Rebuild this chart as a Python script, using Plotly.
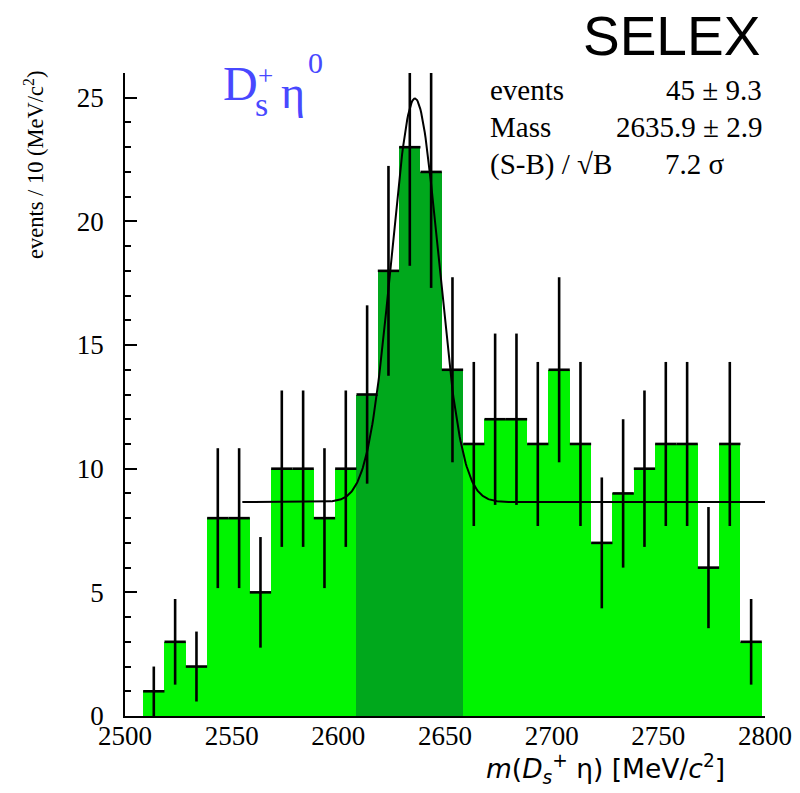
import numpy as np
import plotly.graph_objects as go

# ---- histogram: D_s+ eta invariant mass, 10 MeV bins ----
bin_centers = [2513.5 + 10 * i for i in range(29)]
counts = [1, 3, 2, 8, 8, 5, 10, 10, 8, 10,
          13, 18, 23, 22, 14, 11, 12, 12, 11, 14,
          11, 7, 9, 10, 11, 11, 6, 11, 3]
bin_width = 10.0

# signal window (shaded darker)
window_lo, window_hi = 2608.5, 2658.5

# fit result: gaussian on a flat background
fit_events = 45
fit_events_err = 9.3
fit_mass = 2635.9
fit_mass_err = 2.9
fit_sigma = 11.0
fit_bkg = 8.65
fit_range = (2555.0, 2800.0)
significance = 7.2

x_ticks = [2500, 2550, 2600, 2650, 2700, 2750, 2800]
y_ticks = [0, 5, 10, 15, 20, 25]

LIGHT = "#00f400"
DARK = "#00a81c"
BLUE = "#4848ff"
SERIF = "Liberation Serif"

bar_colors = [DARK if window_lo <= c <= window_hi else LIGHT for c in bin_centers]
errors = [np.sqrt(n) for n in counts]

fig = go.Figure()
fig.add_trace(go.Bar(
    x=bin_centers, y=counts, width=bin_width,
    marker=dict(color=bar_colors, line=dict(width=0)),
    hoverinfo="skip", showlegend=False,
))
fig.add_trace(go.Scatter(
    x=bin_centers, y=counts, mode="markers",
    marker=dict(size=1, color="black", opacity=0),
    error_y=dict(type="data", array=errors, visible=True, color="black",
                 thickness=2.6, width=0),
    error_x=dict(type="constant", value=bin_width / 2, visible=True,
                 color="black", thickness=2.6, width=0),
    showlegend=False,
))

# fit curve
xf = np.linspace(fit_range[0], fit_range[1], 600)
amp = fit_events * bin_width / (np.sqrt(2 * np.pi) * fit_sigma)
yf = fit_bkg + amp * np.exp(-0.5 * ((xf - fit_mass) / fit_sigma) ** 2)
fig.add_trace(go.Scatter(x=xf, y=yf, mode="lines",
                         line=dict(color="black", width=2),
                         showlegend=False, hoverinfo="skip"))

# plot area in pixels
L, R, T, B = 125, 765, 73, 716
W, H = 800, 793


def px(xp):
    return (xp - L) / (R - L)


def py(yp):
    return (B - yp) / (B - T)


def note(text, x, y, size, color="black", family=SERIF, xanchor="left",
         yanchor="middle", angle=0):
    fig.add_annotation(text=text, x=px(x), y=py(y), xref="paper", yref="paper",
                       showarrow=False, xanchor=xanchor, yanchor=yanchor,
                       textangle=angle,
                       font=dict(family=family, size=size, color=color))


# experiment name
note("SELEX", 671, 36, 55, family="Liberation Sans", xanchor="center")

# decay channel label
note("D", 221, 83, 48, color=BLUE)
note("+", 265, 76, 27, color=BLUE, xanchor="center")
note("s", 261, 104, 34, color=BLUE, xanchor="center")
note("\u03b7", 293, 92, 46, color=BLUE, xanchor="center")
note("0", 315, 62, 30, color=BLUE, xanchor="center")

# fit summary
note("events", 488, 90, 29)
note(f"{fit_events} \u00b1 {fit_events_err}", 764, 90, 29, xanchor="right")
note("Mass", 488, 127, 29)
note(f"{fit_mass} \u00b1 {fit_mass_err}", 764, 127, 29, xanchor="right")
note("(S-B) / \u221aB", 488, 164, 29)
note(f"{significance} \u03c3", 663, 164, 29)

# axis titles
note("<i>m</i>(<i>D<sub>s</sub></i><sup>+</sup> \u03b7) [MeV/<i>c</i><sup>2</sup>]",
     605, 769, 26.5, family="DejaVu Sans", xanchor="center")
note("events / 10 (MeV/c<sup>2</sup>)", 34, 165, 22.5, xanchor="center", angle=-90)

fig.update_layout(
    width=W, height=H,
    margin=dict(l=L, r=W - R, t=T, b=H - B, pad=0, autoexpand=False),
    plot_bgcolor="white", paper_bgcolor="white",
    bargap=0, showlegend=False,
    xaxis=dict(range=[2500, 2800], tickvals=x_ticks, automargin=False,
               showline=True, linecolor="black", linewidth=1.5,
               ticks="inside", ticklen=12, tickwidth=1.5, tickcolor="black",
               showgrid=False, zeroline=False, layer="below traces",
               ticklabelstandoff=-5,
               tickfont=dict(family=SERIF, size=27, color="black")),
    yaxis=dict(range=[0, 26], tickvals=y_ticks, automargin=False,
               showline=True, linecolor="black", linewidth=1.5,
               ticks="inside", ticklen=12, tickwidth=1.5, tickcolor="black",
               minor=dict(dtick=1, ticks="inside", ticklen=6, tickwidth=1.5,
                          tickcolor="black", showgrid=False),
               showgrid=False, zeroline=False, layer="below traces",
               ticklabelstandoff=14,
               tickfont=dict(family=SERIF, size=27, color="black")),
)

fig.write_html("out.html")
